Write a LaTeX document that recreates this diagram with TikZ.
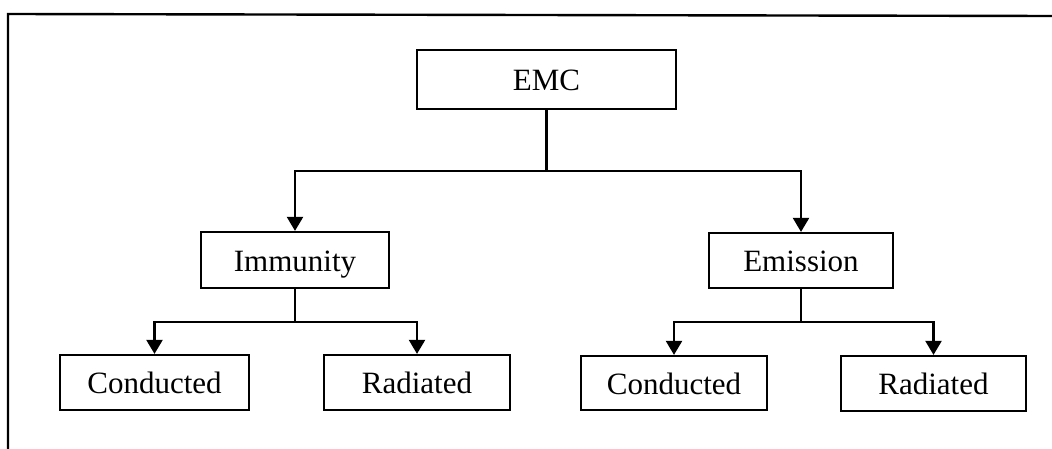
\documentclass[tikz,border=0pt]{standalone}
\usepackage{fontspec}
\setmainfont{Liberation Serif}
\usetikzlibrary{arrows.meta}
\begin{document}
\begin{tikzpicture}[x=1pt,y=-1pt,
  box/.style={draw, line width=2.2pt, rectangle, inner sep=0pt,
    text height=23pt, text depth=1pt,
    font=\fontsize{31}{35}\selectfont},
  link/.style={line width=2.2pt},
  arr/.style={link, -{Triangle[width=16pt,length=14pt]}}]
  \useasboundingbox (0,0) rectangle (1052,449);
  % frame lines along the top and left side
  \coordinate (fl) at (8,449);
  \coordinate (ftl) at (8,14);
  \coordinate (ftr) at (1052,16);
  \draw[line width=2.4pt] (fl) -- (ftl) -- (ftr);

  % boxes
  \node[box, minimum width=259pt, minimum height=59pt] (emc) at (546.5,79.5) {EMC};
  \node[box, minimum width=188pt, minimum height=56pt] (imm) at (295,260) {Immunity};
  \node[box, minimum width=184pt, minimum height=55pt] (emi) at (801,260.5) {Emission};
  \node[box, minimum width=189pt, minimum height=55pt] (icon) at (154.5,382.5) {Conducted};
  \node[box, minimum width=186pt, minimum height=55pt] (irad) at (417,382.5) {Radiated};
  \node[box, minimum width=186pt, minimum height=54pt] (econ) at (674,383) {Conducted};
  \node[box, minimum width=185pt, minimum height=55pt] (erad) at (933.5,383.5) {Radiated};

  % junction points of the tree
  \coordinate (j0) at (546.5,171);
  \coordinate (j1) at (295,322);
  \coordinate (j2) at (801,322);

  % connectors
  \draw[link] (emc.south) -- (j0);
  \draw[arr] (j0) -| (imm.north);
  \draw[arr] (j0) -| (emi.north);
  \draw[link] (imm.south) -- (j1);
  \draw[arr] (j1) -| (icon.north);
  \draw[arr] (j1) -| (irad.north);
  \draw[link] (emi.south) -- (j2);
  \draw[arr] (j2) -| (econ.north);
  \draw[arr] (j2) -| (erad.north);
\end{tikzpicture}
\end{document}
